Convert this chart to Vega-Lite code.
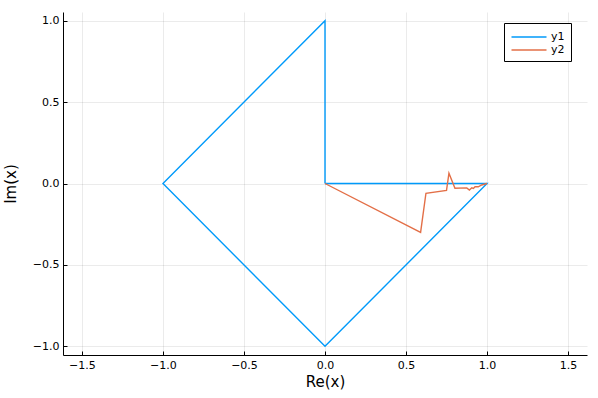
{
  "$schema": "https://vega.github.io/schema/vega-lite/v6.json",
  "width": 524,
  "height": 343,
  "autosize": "none",
  "padding": {"left": 63, "top": 12, "right": 11, "bottom": 43},
  "background": "white",
  "config": {
    "view": {"stroke": null},
    "font": "DejaVu Sans",
    "axis": {
      "domainColor": "black",
      "domainWidth": 1,
      "tickColor": "black",
      "tickSize": -4,
      "gridColor": "black",
      "gridOpacity": 0.08,
      "gridWidth": 1,
      "labelFont": "DejaVu Sans",
      "labelFontSize": 11,
      "labelColor": "black",
      "titleFont": "DejaVu Sans",
      "titleFontSize": 15,
      "titleFontWeight": "normal",
      "titleColor": "black"
    }
  },
  "data": {
    "values": [
      {"s": "y1", "o": 0, "x": 0, "y": 0},
      {"s": "y1", "o": 1, "x": 0, "y": 1},
      {"s": "y1", "o": 2, "x": -1, "y": 0},
      {"s": "y1", "o": 3, "x": 0, "y": -1},
      {"s": "y1", "o": 4, "x": 1, "y": 0},
      {"s": "y1", "o": 5, "x": 0, "y": 0},
      {"s": "y2", "o": 0, "x": 0, "y": 0},
      {"s": "y2", "o": 1, "x": 0.59, "y": -0.30},
      {"s": "y2", "o": 2, "x": 0.623, "y": -0.06},
      {"s": "y2", "o": 3, "x": 0.75, "y": -0.042},
      {"s": "y2", "o": 4, "x": 0.765, "y": 0.063},
      {"s": "y2", "o": 5, "x": 0.802, "y": -0.029},
      {"s": "y2", "o": 6, "x": 0.875, "y": -0.027},
      {"s": "y2", "o": 7, "x": 0.891, "y": -0.04},
      {"s": "y2", "o": 8, "x": 0.906, "y": -0.026},
      {"s": "y2", "o": 9, "x": 0.916, "y": -0.03},
      {"s": "y2", "o": 10, "x": 0.926, "y": -0.02},
      {"s": "y2", "o": 11, "x": 0.946, "y": -0.02},
      {"s": "y2", "o": 12, "x": 0.967, "y": -0.009},
      {"s": "y2", "o": 13, "x": 1.0, "y": 0}
    ]
  },
  "mark": {"type": "line", "strokeWidth": 1.4, "clip": true},
  "encoding": {
    "x": {
      "field": "x", "type": "quantitative",
      "scale": {"domain": [-1.617, 1.617], "nice": false, "zero": false},
      "axis": {"values": [-1.5, -1, -0.5, 0, 0.5, 1, 1.5], "format": ".1f", "title": "Re(x)", "labelPadding": 8, "titlePadding": 4}
    },
    "y": {
      "field": "y", "type": "quantitative",
      "scale": {"domain": [-1.053, 1.053], "nice": false, "zero": false},
      "axis": {"values": [-1, -0.5, 0, 0.5, 1], "format": ".1f", "title": "Im(x)", "labelPadding": 8, "titlePadding": 14}
    },
    "order": {"field": "o", "type": "quantitative"},
    "color": {
      "field": "s", "type": "nominal",
      "scale": {"domain": ["y1", "y2"], "range": ["#009AFA", "#E36F47"]},
      "legend": {
        "title": null,
        "orient": "none",
        "legendX": 441,
        "legendY": 11,
        "strokeColor": "black",
        "fillColor": "white",
        "padding": 6,
        "symbolType": "M-2.5,0H2.5",
        "symbolSize": 196,
        "symbolOffset": 11,
        "symbolStrokeWidth": 1.4,
        "labelFontSize": 11,
        "labelFont": "DejaVu Sans",
        "labelColor": "black",
        "rowPadding": 0,
        "labelOffset": 14
      }
    }
  }
}
